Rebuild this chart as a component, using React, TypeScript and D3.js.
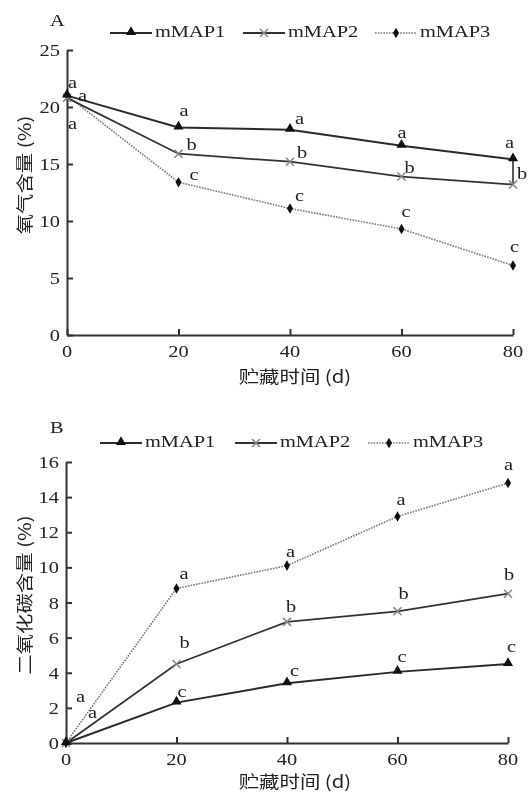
import * as d3 from "d3";
import { useEffect, useRef } from "react";

const days = [0, 20, 40, 60, 80];
const seriesNames = ["mMAP1", "mMAP2", "mMAP3"];

// panel A: oxygen content (%)
const o2MAP1 = [21.0, 18.2, 18.0, 16.6, 15.4];
const o2MAP2 = [20.8, 15.9, 15.2, 13.9, 13.2];
const o2MAP3 = [21.0, 13.4, 11.1, 9.3, 6.1];
const o2Letters1 = ["a", "a", "a", "a", "a"];
const o2Letters2 = ["a", "b", "b", "b", "b"];
const o2Letters3 = ["a", "c", "c", "c", "c"];
const o2Ticks = [0, 5, 10, 15, 20, 25];

// panel B: carbon dioxide content (%)
const co2MAP1 = [0, 2.3, 3.4, 4.05, 4.5];
const co2MAP2 = [0, 4.5, 6.9, 7.5, 8.5];
const co2MAP3 = [0, 8.8, 10.1, 12.9, 14.8];
const co2Letters1 = ["", "c", "c", "c", "c"];
const co2Letters2 = ["a", "b", "b", "b", "b"];
const co2Letters3 = ["a", "a", "a", "a", "a"];
const co2Ticks = [0, 2, 4, 6, 8, 10, 12, 14, 16];

const xTicks = [0, 20, 40, 60, 80];

// letter offsets from the point (dx, dy), per series per day
const o2Off = [
  [[1, -8], [1, -12], [5, -6], [-4, -8], [-8, -11]],
  [[11, 3], [8, -4], [7, -4], [3, -4], [4, -6]],
  [[1, 33], [11, -2], [5, -7], [0, -12], [-3, -13]],
];
const co2Off = [
  [[0, 0], [1, -6], [3, -7], [0, -10], [-1, -12]],
  [[22, -25], [3, -16], [-1, -10], [1, -12], [-4, -14]],
  [[10, -41], [3, -9], [-1, -9], [-1, -11], [-4, -13]],
];

const SERIF = "'Liberation Serif', 'Times New Roman', serif";
const CJK = "'Noto Sans CJK SC', 'Liberation Serif', serif";
const STRETCH = 1.2;
const FS = 17;

export default function App() {
  const ref = useRef(null);

  useEffect(() => {
    draw();
  });

  function text(g, x, y, s, anchor = "start", family = SERIF, rotate = 0, size = FS) {
    g.append("text")
      .attr(
        "transform",
        `translate(${x},${y})` + (rotate ? ` rotate(${rotate})` : "") + ` scale(${STRETCH},1)`
      )
      .attr("text-anchor", anchor)
      .attr("font-family", family)
      .attr("font-size", size)
      .attr("fill", "#222")
      .text(s);
  }

  function marker(g, kind, x, y) {
    if (kind === 0) {
      g.append("path")
        .attr("d", d3.symbol(d3.symbolTriangle, 44)())
        .attr("transform", `translate(${x},${y - 1})`)
        .attr("fill", "#111");
    } else if (kind === 1) {
      const r = 4;
      g.append("path")
        .attr("d", `M${x - r},${y - r}L${x + r},${y + r}M${x - r},${y + r}L${x + r},${y - r}`)
        .attr("stroke", "#888")
        .attr("stroke-width", 1.6)
        .attr("fill", "none");
    } else {
      g.append("path")
        .attr("d", d3.symbol(d3.symbolDiamond, 32)())
        .attr("transform", `translate(${x},${y})`)
        .attr("fill", "#111");
    }
  }

  const lineStyles = [
    { stroke: "#2a2a2a", width: 2, dash: null },
    { stroke: "#333", width: 1.8, dash: null },
    { stroke: "#777", width: 1.6, dash: "1.6,1.2" },
  ];

  function panel(svg, opt) {
    const g = svg.append("g");
    const x = d3.scaleLinear().domain([0, 80]).range([opt.left, opt.right]);
    const y = d3.scaleLinear().domain([0, opt.ymax]).range([opt.bottom, opt.top]);

    // axes
    g.append("g")
      .attr("transform", `translate(0,${opt.bottom})`)
      .call(d3.axisBottom(x).tickValues(xTicks).tickSizeInner(-6).tickSizeOuter(0).tickFormat(() => ""))
      .call((a) => a.selectAll("path,line").attr("stroke", "#333").attr("stroke-width", 2));
    g.append("g")
      .attr("transform", `translate(${opt.left},0)`)
      .call(d3.axisLeft(y).tickValues(opt.ticks).tickSizeInner(-6).tickSizeOuter(0).tickFormat(() => ""))
      .call((a) => a.selectAll("path,line").attr("stroke", "#333").attr("stroke-width", 2));

    opt.ticks.forEach((t) => text(g, opt.left - 7, y(t) + 6, String(t), "end"));
    xTicks.forEach((t) => text(g, x(t), opt.bottom + 22, String(t), "middle"));

    text(g, 295, opt.xTitleY, "贮藏时间 (d)", "middle", CJK);
    text(g, 31, opt.yTitleY, opt.yTitle, "middle", CJK, -90);
    text(g, 50, opt.panelY, opt.panel, "start");

    // error-bar like stroke at day 80 (panel A)
    if (opt.extraBar) {
      g.append("line")
        .attr("x1", x(80))
        .attr("x2", x(80))
        .attr("y1", y(opt.series[1][4]))
        .attr("y2", y(opt.series[0][4]))
        .attr("stroke", "#222")
        .attr("stroke-width", 1.5);
    }

    // series (draw dotted first so solid lines sit on top)
    [2, 1, 0].forEach((si) => {
      const vals = opt.series[si];
      const st = lineStyles[si];
      const pts = days.map((d, i) => [d, vals[i]]);
      g.append("path")
        .datum(pts)
        .attr("fill", "none")
        .attr("stroke", st.stroke)
        .attr("stroke-width", st.width)
        .attr("stroke-dasharray", st.dash)
        .attr(
          "d",
          d3
            .line()
            .x((d) => x(d[0]))
            .y((d) => y(d[1]))
        );
      pts.forEach((p) => marker(g, si, x(p[0]), y(p[1])));
    });

    [0, 1, 2].forEach((si) => {
      const vals = opt.series[si];
      opt.letters[si].forEach((l, i) => {
        if (!l) return;
        const [dx, dy] = opt.offsets[si][i];
        text(g, x(days[i]) + dx, y(vals[i]) + dy, l, "start");
      });
    });

    // legend
    opt.legend.forEach((lx, si) => {
      const st = lineStyles[si];
      const ly = opt.legendY;
      g.append("line")
        .attr("x1", lx)
        .attr("x2", lx + 42)
        .attr("y1", ly)
        .attr("y2", ly)
        .attr("stroke", st.stroke)
        .attr("stroke-width", st.width)
        .attr("stroke-dasharray", st.dash);
      marker(g, si, lx + 21, ly);
      text(g, lx + 45, ly + 4, seriesNames[si], "start");
    });
  }

  function draw() {
    const svg = d3.select(ref.current);
    svg.selectAll("*").remove();
    svg.append("rect").attr("width", 531).attr("height", 792).attr("fill", "#fff");

    panel(svg, {
      left: 67,
      right: 513,
      top: 50,
      bottom: 335,
      ymax: 25,
      ticks: o2Ticks,
      series: [o2MAP1, o2MAP2, o2MAP3],
      letters: [o2Letters1, o2Letters2, o2Letters3],
      offsets: o2Off,
      xTitleY: 383,
      yTitle: "氧气含量 (%)",
      yTitleY: 175,
      panel: "A",
      panelY: 26,
      legend: [110, 243, 375],
      legendY: 33,
      extraBar: true,
    });

    panel(svg, {
      left: 66,
      right: 508,
      top: 462,
      bottom: 743,
      ymax: 16,
      ticks: co2Ticks,
      series: [co2MAP1, co2MAP2, co2MAP3],
      letters: [co2Letters1, co2Letters2, co2Letters3],
      offsets: co2Off,
      xTitleY: 788,
      yTitle: "二氧化碳含量 (%)",
      yTitleY: 595,
      panel: "B",
      panelY: 433,
      legend: [100, 235, 368],
      legendY: 443,
      extraBar: false,
    });
  }

  return (
    <svg
      ref={ref}
      width={531}
      height={792}
      style={{ position: "absolute", left: 0, top: 0, willChange: "transform" }}
    ></svg>
  );
}
